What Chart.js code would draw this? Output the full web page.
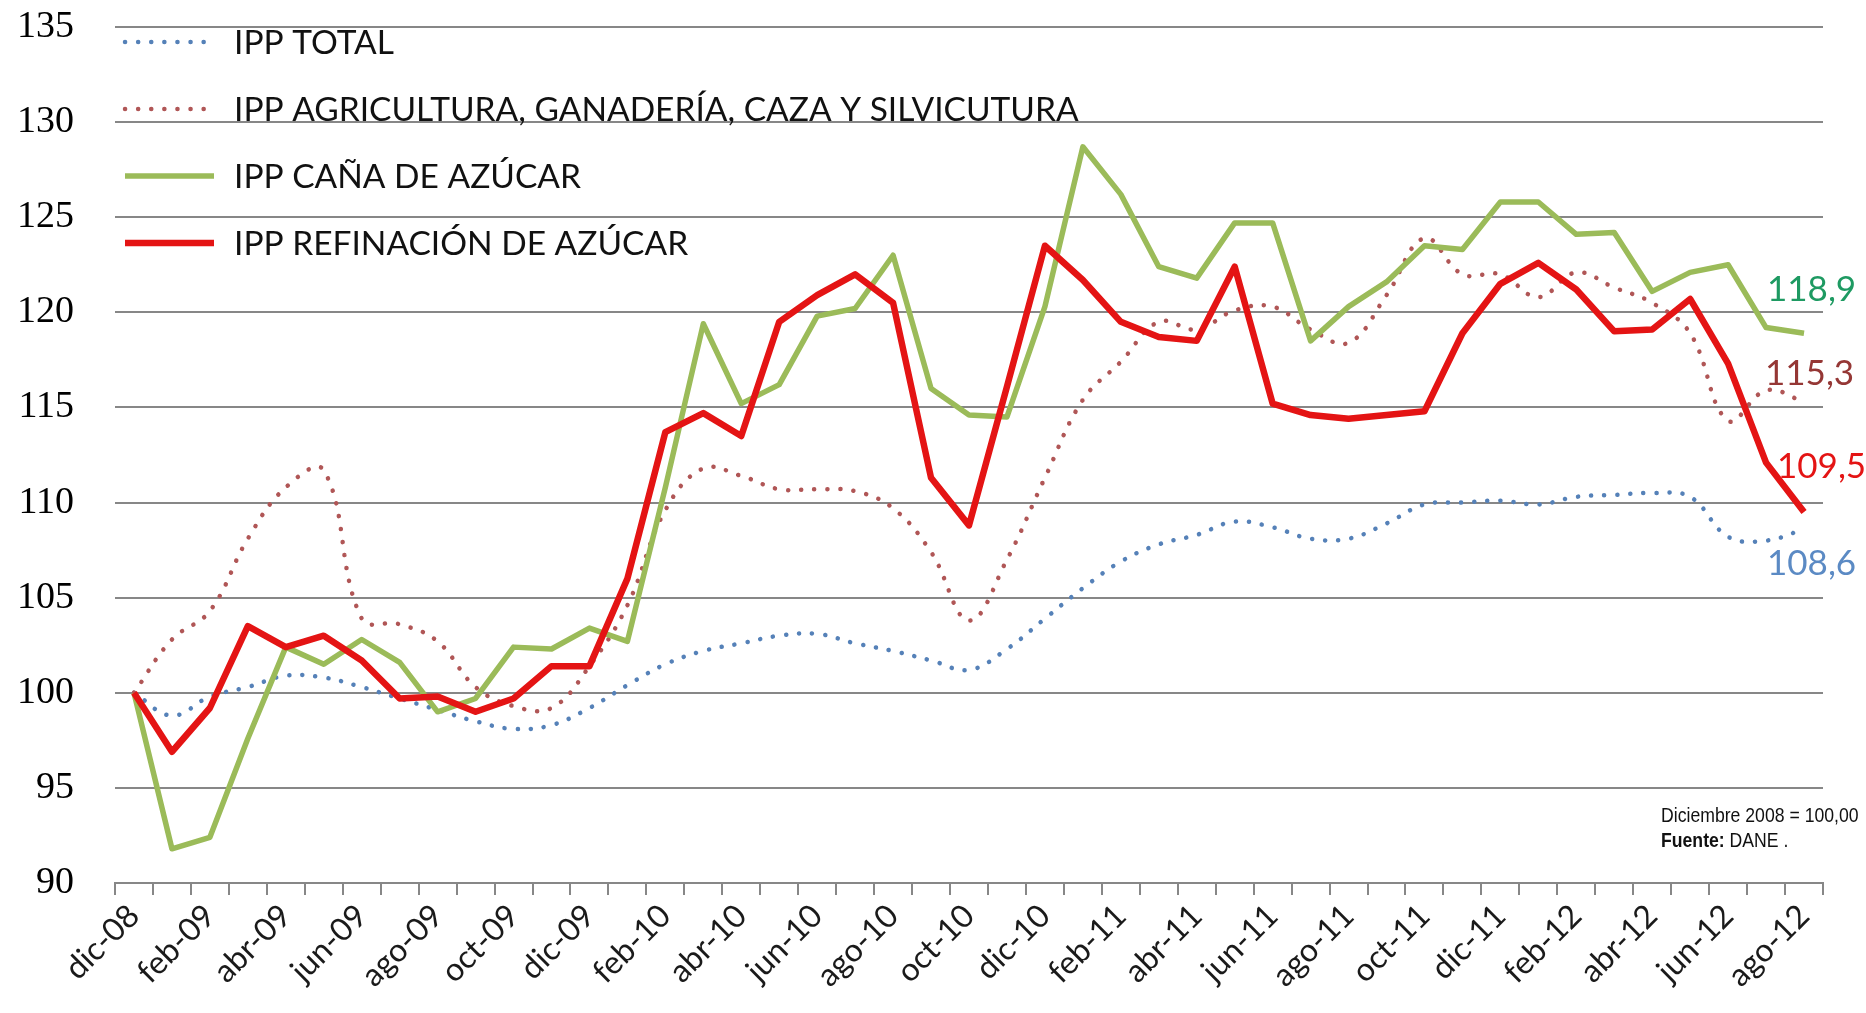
<!DOCTYPE html>
<html>
<head>
<meta charset="utf-8">
<title>IPP azúcar</title>
<script src="https://cdn.jsdelivr.net/npm/chart.js@4.4.0/dist/chart.umd.min.js"></script>
<style>
  html, body { margin: 0; padding: 0; background: #fff; }
  #wrap { position: relative; width: 1866px; height: 1013px; }
</style>
</head>
<body>
<div id="wrap">
  <canvas id="ippChart" width="1866" height="1013"></canvas>
</div>
<script>
  'use strict';

  // Categorías (meses) y series.
  var meses = [
    'dic-08',
    'ene-09', 'feb-09', 'mar-09', 'abr-09', 'may-09', 'jun-09', 'jul-09', 'ago-09', 'sep-09', 'oct-09', 'nov-09', 'dic-09',
    'ene-10', 'feb-10', 'mar-10', 'abr-10', 'may-10', 'jun-10', 'jul-10', 'ago-10', 'sep-10', 'oct-10', 'nov-10', 'dic-10',
    'ene-11', 'feb-11', 'mar-11', 'abr-11', 'may-11', 'jun-11', 'jul-11', 'ago-11', 'sep-11', 'oct-11', 'nov-11', 'dic-11',
    'ene-12', 'feb-12', 'mar-12', 'abr-12', 'may-12', 'jun-12', 'jul-12', 'ago-12'
  ];

  var ippTotal = [
    100.0, 98.8, 99.8, 100.3, 100.9, 100.8, 100.3, 99.7, 99.1, 98.5, 98.1, 98.3, 99.2,
    100.4, 101.5, 102.2, 102.6, 103.0, 103.1, 102.6, 102.2, 101.7, 101.2, 102.3, 103.9,
    105.5, 106.9, 107.8, 108.3, 109.0, 108.7, 108.1, 108.1, 108.9, 109.9, 110.0, 110.1,
    109.9, 110.3, 110.4, 110.5, 110.3, 108.2, 108.0, 108.6
  ];

  var ippAgricultura = [
    100.0, 102.8, 104.3, 108.1, 110.8, 111.7, 103.9, 103.6, 102.7, 100.3, 99.3, 99.2, 101.4,
    104.6, 109.6, 111.8, 111.4, 110.7, 110.7, 110.6, 109.7, 107.4, 103.8, 107.0, 111.3,
    115.4, 117.4, 119.5, 119.1, 120.1, 120.3, 119.1, 118.4, 120.9, 123.9, 122.0, 122.0,
    120.8, 122.1, 121.3, 120.5, 118.9, 114.3, 115.9, 115.3
  ];

  var ippCana = [
    100.0, 91.8, 92.4, 97.6, 102.4, 101.5, 102.8, 101.6, 99.0, 99.7, 102.4, 102.3, 103.4,
    102.7, 110.8, 119.4, 115.2, 116.2, 119.8, 120.2, 123.0, 116.0, 114.6, 114.5, 120.3,
    128.7, 126.2, 122.4, 121.8, 124.7, 124.7, 118.5, 120.3, 121.6, 123.5, 123.3, 125.8,
    125.8, 124.1, 124.2, 121.1, 122.1, 122.5, 119.2, 118.9
  ];

  var ippRefinacion = [
    100.0, 96.9, 99.2, 103.5, 102.4, 103.0, 101.7, 99.7, 99.8, 99.0, 99.7, 101.4, 101.4,
    106.0, 113.7, 114.7, 113.5, 119.5, 120.9, 122.0, 120.5, 111.3, 108.8, 116.1, 123.5,
    121.7, 119.5, 118.7, 118.5, 122.4, 115.2, 114.6, 114.4, 114.6, 114.8, 118.9, 121.5,
    122.6, 121.2, 119.0, 119.1, 120.7, 117.3, 112.1, 109.5
  ];

  var nombresSeries = [
    'IPP TOTAL',
    'IPP AGRICULTURA, GANADERÍA, CAZA Y SILVICUTURA',
    'IPP CAÑA DE AZÚCAR',
    'IPP REFINACIÓN DE AZÚCAR'
  ];

  var valoresFinales = ['108,6', '115,3', '118,9', '109,5'];

  var ejeY = { min: 90, max: 135, paso: 5 };

  var notas = ['Diciembre 2008 = 100,00', 'DANE .'];

  Chart.defaults.font.family = 'Lato, "Open Sans", sans-serif';

  var GRIS = '#878787';

  /**
   * Leyenda dibujada dentro del área del gráfico, como en Excel.
   */
  var leyendaPlugin = {
    id: 'leyendaIpp',
    afterDraw: function (chart, args, opts) {
      var ctx = chart.ctx;
      ctx.save();
      chart.data.datasets.forEach(function (ds, i) {
        var y = opts.top + i * opts.rowGap;
        ctx.beginPath();
        ctx.strokeStyle = ds.borderColor;
        ctx.lineWidth = ds.borderWidth;
        ctx.lineCap = ds.borderCapStyle || 'butt';
        ctx.setLineDash(ds.borderDash || []);
        ctx.moveTo(opts.x, y);
        ctx.lineTo(opts.x + opts.sampleWidth, y);
        ctx.stroke();
        ctx.setLineDash([]);
        ctx.fillStyle = '#111';
        ctx.font = opts.font;
        ctx.textBaseline = 'middle';
        ctx.textAlign = 'left';
        ctx.fillText(ds.label, opts.x + opts.sampleWidth + opts.gap, y + 1);
      });
      ctx.restore();
    }
  };

  /**
   * Valor del último mes junto al final de cada serie.
   */
  var valorFinalPlugin = {
    id: 'valorFinal',
    afterDraw: function (chart, args, opts) {
      var ctx = chart.ctx;
      ctx.save();
      ctx.font = opts.font;
      ctx.textBaseline = 'middle';
      ctx.textAlign = 'left';
      chart.data.datasets.forEach(function (ds, i) {
        var meta = chart.getDatasetMeta(i);
        var last = meta.data[meta.data.length - 1];
        ctx.fillStyle = opts.colors[i];
        ctx.fillText(valoresFinales[i], last.x + opts.dx[i], last.y + opts.dy[i]);
      });
      ctx.restore();
    }
  };

  /**
   * Nota de base y fuente, abajo a la derecha (letra estrecha tipo Arial Narrow).
   */
  var notaPlugin = {
    id: 'notaFuente',
    afterDraw: function (chart, args, opts) {
      var ctx = chart.ctx;
      var fam = 'px "Liberation Sans", Arial, sans-serif';
      ctx.save();
      ctx.translate(opts.x, opts.y);
      ctx.scale(opts.narrow, 1);
      ctx.fillStyle = '#111';
      ctx.textBaseline = 'middle';
      ctx.textAlign = 'left';
      ctx.font = opts.size + fam;
      ctx.fillText(notas[0], 0, 0);
      ctx.font = 'bold ' + opts.size + fam;
      ctx.fillText('Fuente:', 0, opts.gap);
      var w = ctx.measureText('Fuente: ').width;
      ctx.font = opts.size + fam;
      ctx.fillText(notas[1], w, opts.gap);
      ctx.restore();
    }
  };

  var punteado = [0.1, 13];

  new Chart(document.getElementById('ippChart').getContext('2d'), {
    type: 'line',
    data: {
      labels: meses,
      datasets: [{
        label: nombresSeries[0],
        data: ippTotal,
        borderColor: '#5581b8',
        borderWidth: 4.5,
        borderDash: punteado,
        borderCapStyle: 'round',
        tension: 0.4,
        pointRadius: 0,
        fill: false,
        order: 3
      }, {
        label: nombresSeries[1],
        data: ippAgricultura,
        borderColor: '#b05656',
        borderWidth: 4.5,
        borderDash: punteado,
        borderCapStyle: 'round',
        tension: 0.4,
        pointRadius: 0,
        fill: false,
        order: 2
      }, {
        label: nombresSeries[2],
        data: ippCana,
        borderColor: '#9bbb59',
        borderWidth: 5.5,
        borderJoinStyle: 'round',
        tension: 0,
        pointRadius: 0,
        fill: false,
        order: 1
      }, {
        label: nombresSeries[3],
        data: ippRefinacion,
        borderColor: '#e41414',
        borderWidth: 6.5,
        borderJoinStyle: 'round',
        tension: 0,
        pointRadius: 0,
        fill: false,
        order: 0
      }]
    },
    options: {
      responsive: false,
      animation: false,
      devicePixelRatio: 1,
      layout: { padding: { top: 27, right: 43, bottom: 0, left: 0 } },
      plugins: {
        legend: { display: false },
        tooltip: { enabled: false },
        leyendaIpp: {
          x: 125, top: 42, rowGap: 67, sampleWidth: 89, gap: 20,
          font: '33.5px Lato, "Open Sans", sans-serif'
        },
        valorFinal: {
          font: '35px Lato, "Open Sans", sans-serif',
          colors: ['#5b8ac4', '#953735', '#1e9a62', '#e41414'],
          dx: [-37, -39, -37, -27],
          dy: [35, -28, -44, -45]
        },
        notaFuente: { x: 1661, y: 816, gap: 25, size: 21, narrow: 0.84 }
      },
      scales: {
        x: {
          offset: true,
          grid: {
            offset: true,
            drawOnChartArea: false,
            drawTicks: true,
            tickLength: 12,
            color: GRIS,
            lineWidth: 2
          },
          border: { display: true, color: GRIS, width: 2 },
          ticks: {
            autoSkip: false,
            minRotation: 45,
            maxRotation: 45,
            padding: 2,
            color: '#1a1a1a',
            font: { size: 32 },
            callback: function (val, idx) {
              return idx % 2 === 0 ? meses[idx] : '';
            }
          },
          afterFit: function (scale) {
            scale.height = 130;
            scale.paddingLeft = 0;
            scale.paddingRight = 0;
          }
        },
        y: {
          min: ejeY.min,
          max: ejeY.max,
          grid: {
            drawTicks: false,
            color: GRIS,
            lineWidth: 2
          },
          border: { display: false },
          ticks: {
            stepSize: ejeY.paso,
            padding: 41,
            color: '#000',
            font: { family: '"Liberation Serif", "DejaVu Serif", serif', size: 38 }
          },
          afterFit: function (scale) {
            scale.width = 115;
            scale.paddingTop = 0;
            scale.paddingBottom = 0;
          }
        }
      }
    },
    plugins: [leyendaPlugin, valorFinalPlugin, notaPlugin]
  });
</script>
</body>
</html>
